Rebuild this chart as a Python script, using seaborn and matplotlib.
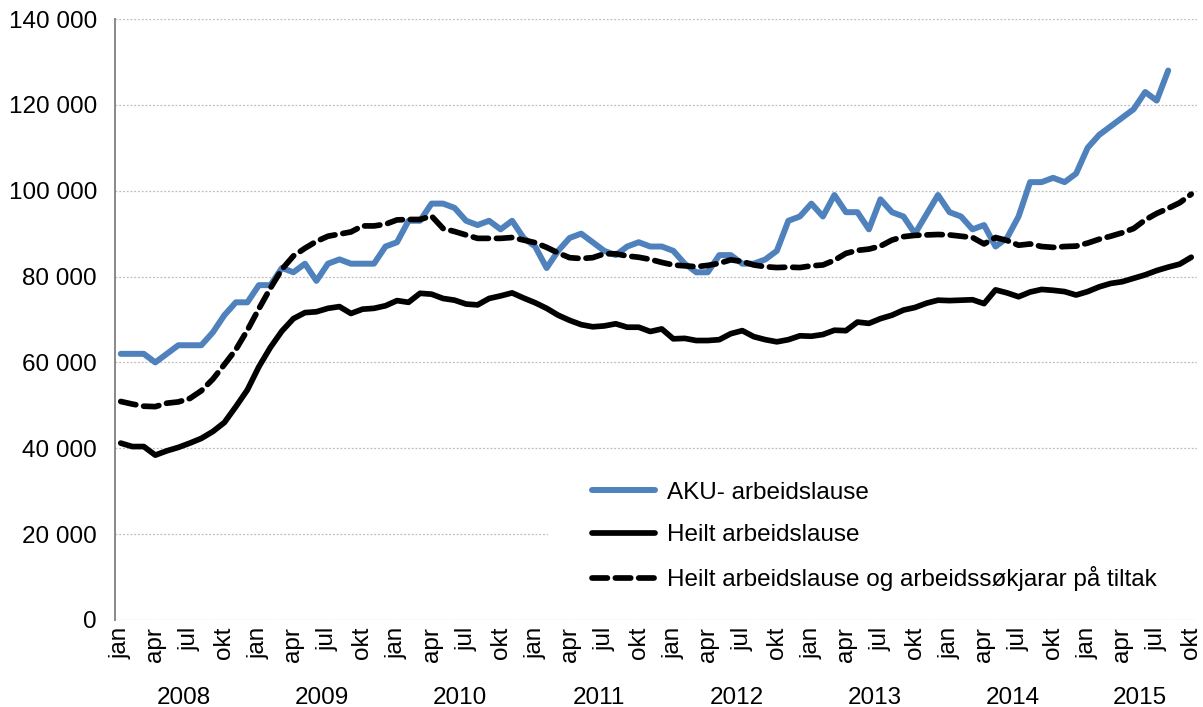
import numpy as np
import matplotlib.pyplot as plt
import seaborn as sns
from matplotlib.patches import Rectangle
from matplotlib.ticker import FuncFormatter
import matplotlib.transforms as mtransforms

years = [2008, 2009, 2010, 2011, 2012, 2013, 2014, 2015]
quarter_labels = ["jan", "apr", "jul", "okt"]

# AKU (jan 2008 - aug 2015)
aku = [62000, 62000, 62000, 60000, 62000, 64000, 64000, 64000, 67000, 71000, 74000, 74000,
       78000, 78000, 82000, 81000, 83000, 79000, 83000, 84000, 83000, 83000, 83000, 87000,
       88000, 93000, 93000, 97000, 97000, 96000, 93000, 92000, 93000, 91000, 93000, 89000,
       87000, 82000, 86000, 89000, 90000, 88000, 86000, 85000, 87000, 88000, 87000, 87000,
       86000, 83000, 81000, 81000, 85000, 85000, 83000, 83000, 84000, 86000, 93000, 94000,
       97000, 94000, 99000, 95000, 95000, 91000, 98000, 95000, 94000, 90000, 94500, 99000,
       95000, 94000, 91000, 92000, 87000, 89000, 94000, 102000, 102000, 103000, 102000, 104000,
       110000, 113000, 115000, 117000, 119000, 123000, 121000, 128000]

# Heilt arbeidslause (jan 2008 - okt 2015)
heilt = [41200, 40400, 40400, 38400, 39400, 40200, 41200, 42300, 43900, 46000, 49700, 53600,
         59000, 63500, 67300, 70200, 71600, 71800, 72600, 73000, 71400, 72400, 72600, 73200,
         74400, 74000, 76100, 75900, 74900, 74500, 73600, 73400, 74900, 75500, 76200, 75000,
         73900, 72600, 71000, 69800, 68800, 68300, 68500, 69000, 68200, 68200, 67200, 67800,
         65500, 65600, 65100, 65100, 65300, 66700, 67400, 66000, 65300, 64800, 65300, 66200,
         66100, 66500, 67500, 67400, 69400, 69100, 70200, 71000, 72200, 72800, 73800, 74500,
         74400, 74500, 74600, 73700, 76900, 76200, 75300, 76400, 77000, 76800, 76500, 75700,
         76500, 77600, 78400, 78800, 79600, 80400, 81400, 82200, 82900, 84500]

# Heilt arbeidslause og arbeidssøkjarar på tiltak (jan 2008 - okt 2015)
heilt_tiltak = [50900, 50300, 49800, 49700, 50500, 50800, 51600, 53400, 56100, 59500, 63000, 67500,
                72500, 77300, 81700, 84800, 86600, 88200, 89400, 89900, 90400, 91800, 91800, 92200,
                93200, 93300, 93300, 94100, 91200, 90500, 89700, 88900, 88900, 88900, 89100, 88500,
                87900, 86800, 85500, 84400, 84200, 84400, 85300, 85300, 84800, 84500, 84000, 83300,
                82700, 82500, 82300, 82600, 83100, 83900, 83500, 82700, 82300, 82100, 82200, 82100,
                82500, 82700, 83800, 85400, 86100, 86400, 87100, 88500, 89300, 89600, 89700, 89800,
                89700, 89400, 89100, 87600, 89100, 88400, 87300, 87600, 87000, 86800, 87000, 87100,
                87800, 88700, 89400, 90200, 91200, 93200, 94700, 95900, 97200, 99200]

n_months = len(heilt)
fs = 17.5

sns.set_theme(style="white")
plt.rcParams['font.family'] = ['Liberation Sans', 'DejaVu Sans']
plt.rcParams['text.color'] = 'black'

fig = plt.figure(figsize=(12.03, 7.07), dpi=100)
ax = fig.add_axes([0.0956, 0.1231, 0.8994, 0.8500])

sns.lineplot(x=np.arange(len(aku)), y=aku, color="#4F81BD", lw=4.3,
             label="AKU- arbeidslause", ax=ax, solid_joinstyle="round")
sns.lineplot(x=np.arange(n_months), y=heilt, color="black", lw=4.1,
             label="Heilt arbeidslause", ax=ax, solid_joinstyle="round")
sns.lineplot(x=np.arange(n_months), y=heilt_tiltak, color="black", lw=4.1,
             label="Heilt arbeidslause og arbeidssøkjarar på tiltak", ax=ax)
dash_line = ax.get_lines()[2]
dash_line.set_dashes((2.7, 1.4))
dash_line.set_dash_capstyle("round")

ax.set_xlim(-0.5, n_months - 0.5)
ax.set_ylim(0, 140000)
ax.set_yticks(range(0, 140001, 20000))
ax.yaxis.set_major_formatter(FuncFormatter(lambda v, p: f"{int(v):,}".replace(",", " ")))

ticks = np.arange(0, n_months, 3)
ax.set_xticks(ticks)
ax.set_xticklabels([quarter_labels[(t % 12) // 3] for t in ticks], rotation=90)
ax.tick_params(axis="x", length=0, pad=5, labelsize=fs, labelcolor="black")
ax.tick_params(axis="y", length=0, pad=13, labelsize=fs, labelcolor="black")
ax.set_xlabel("")
ax.set_ylabel("")

ax.yaxis.grid(True, color="#bdbdbd", linestyle=(0, (1.5, 1.5)), lw=0.9)
ax.xaxis.grid(False)
ax.set_axisbelow(True)
for side in ["top", "right", "bottom"]:
    ax.spines[side].set_visible(False)
ax.spines["left"].set_color("#888888")
ax.spines["left"].set_linewidth(1.4)

# year labels under the month labels
trans = mtransforms.blended_transform_factory(ax.transData, ax.transAxes)
for k, yr in enumerate(years):
    start = 12 * k
    end = min(12 * k + 11, n_months - 1)
    ax.text((start + end) / 2, -0.139, str(yr), transform=trans,
            ha="center", va="baseline", fontsize=fs, color="black")

# white box behind the legend
ax.add_patch(Rectangle((0.40, 0.025), 0.60, 0.235, transform=ax.transAxes,
                       facecolor="white", edgecolor="none", zorder=1))

handles, labels = ax.get_legend_handles_labels()
leg = ax.legend(handles, labels, loc="upper left", bbox_to_anchor=(0.492, 0.3188),
                bbox_transform=fig.transFigure, frameon=False, fontsize=fs,
                handlelength=2.6, handletextpad=0.5, labelspacing=0.84, borderpad=0,
                borderaxespad=0)
for t in leg.get_texts():
    t.set_color("black")

fig.savefig("out.png", dpi=100)
